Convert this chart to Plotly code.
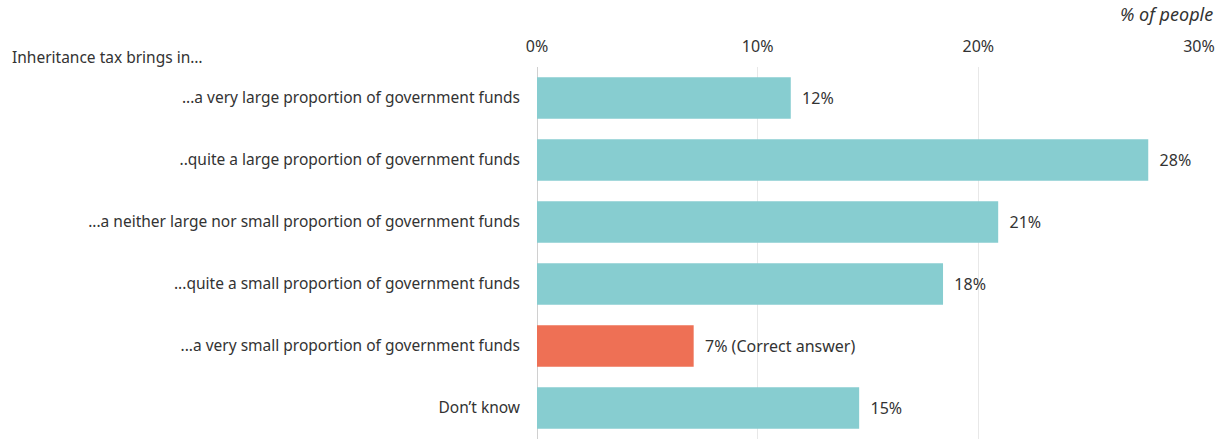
import plotly.graph_objects as go

# Survey responses: "Inheritance tax brings in…"
categories = [
    "...a very large proportion of government funds",
    "..quite a large proportion of government funds",
    "...a neither large nor small proportion of government funds",
    "...quite a small proportion of government funds",
    "...a very small proportion of government funds",
    "Don’t know",
]
share_pct = [11.5, 27.7, 20.9, 18.4, 7.1, 14.6]
label_suffix = ["", "", "", "", " (Correct answer)", ""]
correct_flags = [False, False, False, False, True, False]
x_ticks = [0, 10, 20, 30]

TEAL = "#87CDD0"
CORAL = "#EE7055"
TEXT = "#333333"
FONT = "'Noto Sans', 'Open Sans', sans-serif"
FS_CAT = 15.5
FS_NUM = 16

bar_colors = [CORAL if c else TEAL for c in correct_flags]
bar_text = [f"\u00a0\u00a0{v:.0f}%{s}" for v, s in zip(share_pct, label_suffix)]

fig = go.Figure(
    go.Bar(
        x=share_pct,
        y=categories,
        orientation="h",
        marker=dict(color=bar_colors, line=dict(width=0)),
        width=0.67,
        text=bar_text,
        textposition="outside",
        textfont=dict(family=FONT, size=FS_NUM, color=TEXT),
        cliponaxis=False,
        hoverinfo="skip",
    )
)

fig.update_layout(
    width=1226,
    height=439,
    margin=dict(l=537, r=27, t=67, b=0),
    paper_bgcolor="white",
    plot_bgcolor="white",
    font=dict(family=FONT, size=FS_CAT, color=TEXT),
    showlegend=False,
    bargap=0.33,
)

fig.update_xaxes(
    range=[0, 30],
    side="top",
    tickvals=x_ticks,
    ticktext=[f"{t}%" for t in x_ticks],
    tickfont=dict(family=FONT, size=FS_NUM, color=TEXT),
    showgrid=True,
    gridcolor="#e8e8e8",
    gridwidth=1,
    zeroline=True,
    zerolinecolor="#d0d0d0",
    zerolinewidth=1,
    showline=False,
    ticks="",
    ticklabelstandoff=11,
    fixedrange=True,
)

fig.update_yaxes(
    categoryorder="array",
    categoryarray=categories,
    autorange="reversed",
    tickfont=dict(family=FONT, size=FS_CAT, color=TEXT),
    showgrid=False,
    zeroline=False,
    showline=False,
    ticks="",
    ticklabelstandoff=16,
    fixedrange=True,
)

fig.add_annotation(
    text="Inheritance tax brings in…",
    xref="paper", yref="paper",
    x=-527 / 662, y=1 + 10 / 372,
    xanchor="left", yanchor="middle",
    showarrow=False,
    font=dict(family=FONT, size=FS_CAT, color=TEXT),
)
fig.add_annotation(
    text="<i>% of people</i>",
    xref="paper", yref="paper",
    x=1 + 16 / 662, y=1 + 53 / 372,
    xanchor="right", yanchor="middle",
    showarrow=False,
    font=dict(family=FONT, size=18, color=TEXT),
)

fig.write_html("out.html", config={"displayModeBar": False})
